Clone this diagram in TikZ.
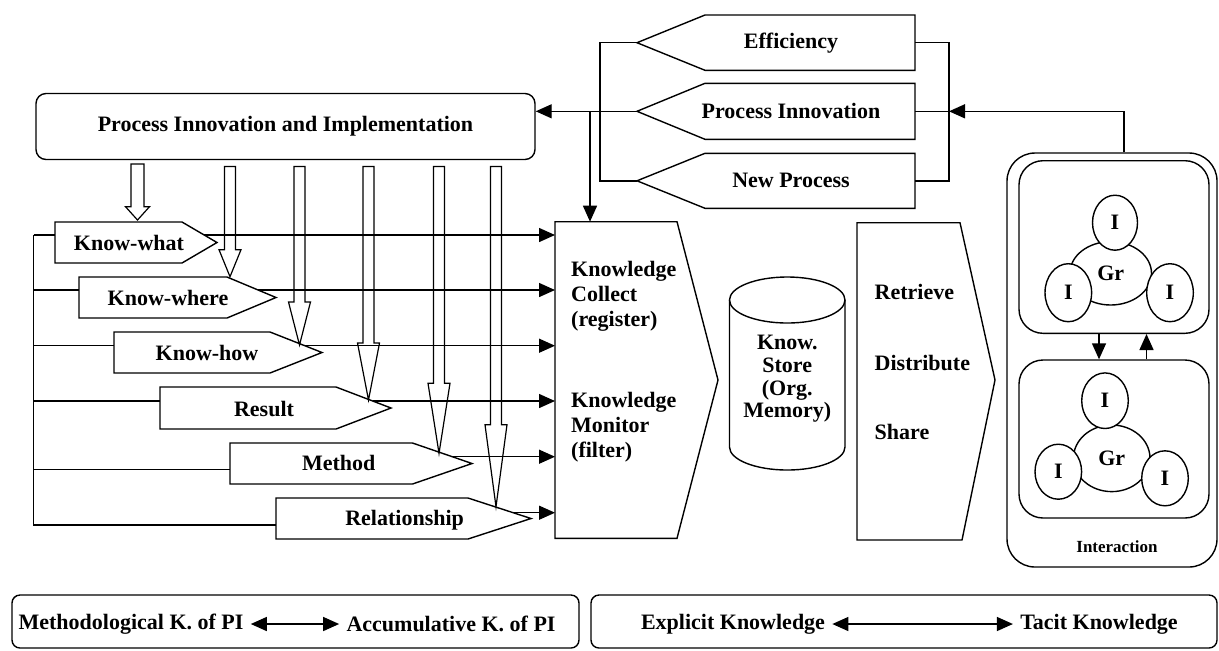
\documentclass[tikz,border=0pt]{standalone}
\usepackage{fontspec}
\setmainfont{Liberation Serif}
\usetikzlibrary{arrows.meta,shapes.geometric}

\begin{document}
\begin{tikzpicture}[
  x=0.5pt, y=-0.5pt,
  line width=0.7pt,
  font=\bfseries\fontsize{11}{12.5}\selectfont,
  box/.style={draw, fill=white},
  frame/.style={draw, rounded corners=#1},
  frame/.default=4pt,
  blob/.style={draw, fill=white, ellipse, inner sep=0pt},
  txt/.style={inner sep=0pt},
  arr/.style={-{Triangle[length=8pt,width=7pt]}},
  dbl/.style={{Triangle[length=8pt,width=7pt]}-{Triangle[length=8pt,width=7pt]}},
  pipe/.style={draw, line width=0.6pt}
]
\useasboundingbox (0,0) rectangle (1219,650);

% process innovation and implementation
\node[frame=5pt, minimum width=249.5pt, minimum height=33pt] (pii) at (285.5,126.5) {Process Innovation and Implementation};

% results of PI
\draw[box] (637,42.7) coordinate (eff-w) -- (705,15) -- (915,15) -- (915,42.7) coordinate (eff-e) -- (915,70.3) -- (705,70.3) -- cycle;
\node (eff) at (791,42.7) {Efficiency};
\draw[box] (637,111.3) coordinate (pin-w) -- (705,83.3) -- (915,83.3) -- (915,111.3) coordinate (pin-e) -- (915,139.3) -- (705,139.3) -- cycle;
\node (pin) at (791,111.3) {Process Innovation};
\draw[box] (637,180.8) coordinate (npr-w) -- (705,153.3) -- (915,153.3) -- (915,180.8) coordinate (npr-e) -- (915,208.3) -- (705,208.3) -- cycle;
\node (npr) at (791,180.8) {New Process};

% knowledge collect / monitor
\draw[box] (555,221.7) coordinate (kc-nw) -- (590,221.7) coordinate (kc-n) -- (677,221.7) -- (718,380) -- (677,538.3) -- (555,538.3) -- cycle;
\node[txt, anchor=west, align=left] (kcoll) at (570.5,296.7) {Knowledge\\Collect\\(register)};
\node[txt, anchor=west, align=left] (kmon) at (570.5,426.7) {Knowledge\\Monitor\\(filter)};

% knowledge store
\draw[box] (729.5,300) -- (729.5,447) arc[start angle=180, end angle=360, x radius=28.875pt, y radius=11.5pt] -- (845,300) arc[start angle=0, end angle=180, x radius=28.875pt, y radius=11.5pt] -- cycle;
\draw (729.5,300) arc[start angle=180, end angle=360, x radius=28.875pt, y radius=11.5pt];
\node[align=center, font=\bfseries\fontsize{11}{11.3}\selectfont] (store) at (787.25,379) {Know.\\Store\\(Org.\\Memory)};

% retrieve / distribute / share
\draw[box] (857,222.7) -- (960,222.7) -- (995,380) -- (962,540) -- (857,540) -- cycle;
\node[txt, anchor=west] (retr) at (874,291.7) {Retrieve};
\node[txt, anchor=west] (distr) at (874,362.7) {Distribute};
\node[txt, anchor=west] (share) at (874,432.3) {Share};

% kinds of knowledge
\draw[box] (55,222) -- (182,222) -- (204.2,235) coordinate (kwhat-e) -- (217,242.5) -- (182,263) -- (55,263) -- (55,235) coordinate (kwhat-w) -- cycle;
\node (kwhat) at (129,242.5) {Know-what};
\draw[box] (79,277) -- (227,277) -- (258.1,290) coordinate (kwhere-e) -- (276,297.5) -- (227,318) -- (79,318) -- (79,290) coordinate (kwhere-w) -- cycle;
\node (kwhere) at (168,298.3) {Know-where};
\draw[box] (114,332) -- (270,332) -- (304.8,345.7) coordinate (khow-e) -- (322,352.5) -- (270,373) -- (114,373) -- (114,345.7) coordinate (khow-w) -- cycle;
\node (khow) at (207,352.7) {Know-how};
\draw[box] (160,387) -- (336,387) -- (372.7,401) coordinate (res-e) -- (391,408) -- (336,429) -- (160,429) -- (160,401) coordinate (res-w) -- cycle;
\node (res) at (264,409) {Result};
\draw[box] (230,443) -- (412.5,443) -- (452.3,456.7) coordinate (meth-e) -- (472,463.5) -- (412.5,484) -- (230,484) -- (230,469.3) coordinate (meth-w) -- cycle;
\node (meth) at (338.7,463.3) {Method};
\draw[box] (276,498) -- (468,498) -- (513.2,512.7) coordinate (rel-e) -- (531,518.5) -- (468,539) -- (276,539) -- (276,525) coordinate (rel-w) -- cycle;
\node (rel) at (404.6,520) {Relationship};

% interaction panel
\node[draw, rounded corners=14pt, minimum width=105pt, minimum height=207pt] (panel) at (1112,360) {};
\node[draw, rounded corners=12pt, minimum width=95pt, minimum height=86.3pt] (grp1) at (1114,247) {};
\node[draw, rounded corners=12pt, minimum width=95pt, minimum height=79pt] (grp2) at (1114,439) {};
\node[blob, minimum width=40.8pt, minimum height=31.7pt] (gr1) at (1110.7,273.3) {Gr};
\node[blob, minimum width=22.5pt, minimum height=27.5pt] (i1a) at (1115,222.7) {I};
\node[blob, minimum width=23.3pt, minimum height=29pt] (i1b) at (1068.3,292.7) {I};
\node[blob, minimum width=23.3pt, minimum height=29pt] (i1c) at (1170,292.7) {I};
\node[blob, minimum width=38.3pt, minimum height=33.3pt] (gr2) at (1111.7,458.3) {Gr};
\node[blob, minimum width=23.3pt, minimum height=27.8pt] (i2a) at (1105,400.7) {I};
\node[blob, minimum width=23.3pt, minimum height=27.5pt] (i2b) at (1058.3,471.7) {I};
\node[blob, minimum width=23.3pt, minimum height=27.5pt] (i2c) at (1165,478.3) {I};
\node[font=\bfseries\fontsize{8.5}{10}\selectfont] (inter) at (1117,546.7) {Interaction};

% connectors
\draw (eff-w) -- ++(-37,0) |- (npr-w);
\draw[arr] (pin-w) -- (pin-w -| pii.east);
\draw[arr] (kc-n |- pin-w) -- (kc-n);
\draw (eff-e) -- ++(34,0) |- (npr-e);
\draw (pin-e) -- ++(34,0) coordinate (pin-j);
\draw[arr] ([xshift=6pt]panel.north) |- (pin-j);
\draw[arr] ([xshift=-7.5pt]grp1.south) -- ([xshift=-7.5pt]grp2.north);
\draw[arr] ([xshift=16.25pt]grp2.north) -- ([xshift=16.25pt]grp1.south);

\coordinate (bus) at (33.6,235);
\draw (bus) -- (kwhat-w);
\draw (bus) |- (rel-w);
\foreach \n in {kwhere,khow,res,meth} \draw (bus |- \n-w) -- (\n-w);
\foreach \n in {kwhat,kwhere,khow,res,meth,rel} \draw[arr] (\n-e) -- (\n-e -| kc-nw);

% hollow arrows from PI&I
\draw[pipe] (131,164) -- (131,206.7) -- (125.5,206.7) -- (137.5,220) -- (149.5,206.7) -- (144,206.7) -- (144,164) -- cycle;
\foreach \x/\t/\h in {230/276.7/27, 299.5/345/43, 368.5/400/57, 439/453.3/70, 496/506.7/82}
  \draw[pipe] (\x-5.5,166.5) -- (\x-5.5,\t-\h) -- (\x-11,\t-\h) -- (\x,\t) -- (\x+11,\t-\h) -- (\x+5.5,\t-\h) -- (\x+5.5,166.5) -- cycle;

% legend
\draw[frame] (12,595) rectangle (579,648);
\draw[frame] (591,595) rectangle (1217,648);
\node (mkpi) at (131,624) {Methodological K. of PI};
\node (akpi) at (451,624) {Accumulative K. of PI};
\draw[dbl] (mkpi) -- (akpi);
\node (expk) at (733,624) {Explicit Knowledge};
\node (tack) at (1099,624) {Tacit Knowledge};
\draw[dbl] (expk) -- (tack);
\end{tikzpicture}
\end{document}
